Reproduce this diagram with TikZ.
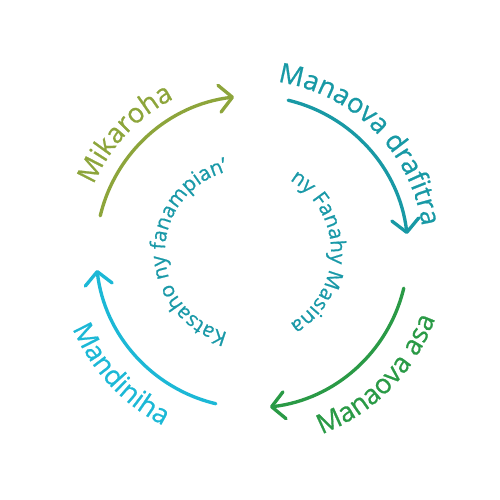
\documentclass[tikz,border=0pt]{standalone}
\usepackage{fontspec}
\setmainfont{Open Sans}[FakeBold=0.7]
\usetikzlibrary{arrows.meta,decorations.text,calc}
\definecolor{cOlive}{HTML}{8DA53B}
\definecolor{cTeal}{HTML}{1899A5}
\definecolor{cGreen}{HTML}{2A9A46}
\definecolor{cCyan}{HTML}{1CB8D6}
\definecolor{cInner}{HTML}{1A99A8}
\tikzset{
  cyclearrow/.style={line width=1.9pt, line cap=round, line join=round,
    -{Straight Barb[length=0.26cm,width=0.54cm,line cap=round,line join=round]}},
  outerlabel/.style 2 args={decorate, decoration={text along path, text align=center,
    text={|\fontsize{15.5}{17}\selectfont\color{#1}|#2}}},
  innerlabel/.style={decorate, decoration={text along path, text align=center,
    text={|\fontsize{11.8}{13}\selectfont\color{cInner}|#1}}}
}
\begin{document}
\begin{tikzpicture}
\useasboundingbox (0,0) rectangle (10,10);
\coordinate (C) at (5.04,4.96);
\coordinate (I) at (4.96,4.96);
% arc end points
\coordinate (a1s) at ($(C)+(166.6:3.12)$);
\coordinate (a2s) at ($(C)+(76.6:3.12)$);
\coordinate (a3s) at ($(C)+(-13.4:3.12)$);
\coordinate (a4s) at ($(C)+(256.6:3.12)$);
% arrows
\draw[cyclearrow, cOlive] (a1s) arc[start angle=166.6, end angle=96.6, radius=3.12cm];
\draw[cyclearrow, cTeal] (a2s) arc[start angle=76.6, end angle=6.6, radius=3.12cm];
\draw[cyclearrow, cGreen] (a3s) arc[start angle=-13.4, end angle=-83.4, radius=3.12cm];
\draw[cyclearrow, cCyan] (a4s) arc[start angle=256.6, end angle=186.6, radius=3.12cm];
% outer labels
\path[outerlabel={cOlive}{Mikaroha}] ($(C)+(177:3.44)$) arc[start angle=177, end angle=97, radius=3.44cm];
\path[outerlabel={cTeal}{Manaova drafitra}] ($(C)+(95:3.44)$) arc[start angle=95, end angle=-5, radius=3.44cm];
\path[outerlabel={cGreen}{Manaova asa}] ($(C)+(-94.5:3.9)$) arc[start angle=-94.5, end angle=5.5, radius=3.9cm];
\path[outerlabel={cCyan}{Mandiniha}] ($(C)+(183:3.9)$) arc[start angle=183, end angle=263, radius=3.9cm];
% inner labels
\path[innerlabel={Katsaho ny fanampian’}] ($(I)+(270:1.66)$) arc[start angle=270, end angle=90, radius=1.66cm];
\path[innerlabel={ny Fanahy Masina}] ($(I)+(70:1.66)$) arc[start angle=70, end angle=-70, radius=1.66cm];
\end{tikzpicture}
\end{document}
